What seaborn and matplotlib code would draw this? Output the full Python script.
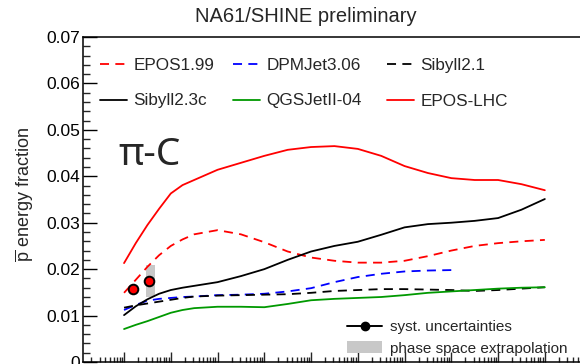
import matplotlib
matplotlib.use("Agg")
import matplotlib.pyplot as plt
import numpy as np
import pandas as pd
import seaborn as sns
from matplotlib.lines import Line2D
from matplotlib.patches import Patch
from matplotlib.ticker import MultipleLocator, NullFormatter, LogLocator

# ---------------- data ----------------
energy = [1e2, 1.78e2, 3.16e2, 5.62e2, 1e3, 1.78e3, 3.16e3, 1e4, 3.16e4, 1e5, 3.16e5, 1e6,
          3.16e6, 1e7, 3.16e7, 1e8, 3.16e8, 1e9, 3.16e9, 1e10, 3.16e10, 1e11]

epos199 = [0.0149, 0.0177, 0.0205, 0.0230, 0.0250, 0.0264, 0.0275, 0.0284, 0.0275, 0.0258,
           0.0238, 0.0225, 0.0218, 0.0214, 0.0214, 0.0218, 0.0228, 0.0240, 0.0250, 0.0256,
           0.0260, 0.0263]
dpmjet306 = [0.0112, 0.0123, 0.0132, 0.0136, 0.0138, 0.0140, 0.0141, 0.0144, 0.0145, 0.0147,
             0.0152, 0.0159, 0.0172, 0.0183, 0.0190, 0.0195, 0.0197, 0.0198]
sibyll21 = [0.0117, 0.0122, 0.0126, 0.0130, 0.0134, 0.0138, 0.0141, 0.0143, 0.0144, 0.0145,
            0.0146, 0.0149, 0.0153, 0.0155, 0.0157, 0.0157, 0.0156, 0.0155, 0.0153, 0.0155,
            0.0158, 0.0161]
sibyll23c = [0.0101, 0.0120, 0.0135, 0.0147, 0.0155, 0.0160, 0.0164, 0.0172, 0.0185, 0.0200,
             0.0220, 0.0238, 0.0250, 0.0259, 0.0274, 0.0290, 0.0297, 0.0300, 0.0304, 0.0310,
             0.0328, 0.0351]
qgsjet = [0.0071, 0.0080, 0.0088, 0.0097, 0.0106, 0.0112, 0.0116, 0.0119, 0.0119, 0.0118,
          0.0125, 0.0133, 0.0136, 0.0138, 0.0140, 0.0144, 0.0149, 0.0152, 0.0155, 0.0158,
          0.0160, 0.0161]
epos_lhc = [0.0213, 0.0256, 0.0295, 0.0330, 0.0363, 0.0381, 0.0392, 0.0414, 0.0429, 0.0444,
            0.0457, 0.0463, 0.0465, 0.0459, 0.0444, 0.0422, 0.0407, 0.0396, 0.0392, 0.0392,
            0.0383, 0.0370]

models = ["EPOS1.99", "DPMJet3.06", "Sibyll2.1", "Sibyll2.3c", "QGSJetII-04", "EPOS-LHC"]
series = [epos199, dpmjet306, sibyll21, sibyll23c, qgsjet, epos_lhc]
colors = ["#ff0000", "#0000ff", "#000000", "#000000", "#009900", "#ff0000"]
dashed = [True, True, True, False, False, False]

# measurements
data_energy = [158, 350]
data_value = [0.0157, 0.0174]
# phase space extrapolation band
band_energy = [295, 460]
band_low = [0.0140, 0.0140]
band_high = [0.0209, 0.0209]

ytick_values = [0, 0.01, 0.02, 0.03, 0.04, 0.05, 0.06, 0.07]
ytick_labels = ["0", "0.01", "0.02", "0.03", "0.04", "0.05", "0.06", "0.07"]

# ---------------- style ----------------
sns.set_style("ticks")
plt.rcParams["font.family"] = ["Liberation Sans", "DejaVu Sans"]
plt.rcParams["mathtext.fontset"] = "custom"
plt.rcParams["mathtext.rm"] = "Liberation Sans"
plt.rcParams["mathtext.it"] = "Liberation Sans:italic"

rows = []
for m, s in zip(models, series):
    for e, v in zip(energy, s):
        rows.append({"energy": e, "fraction": v, "model": m})
df = pd.DataFrame(rows)

fig = plt.figure(figsize=(5.8, 3.64), dpi=100)
W, H = 580, 364
ax = fig.add_axes([83 / W, 2 / H, (600 - 83) / W, 325 / H])
ax.set_xscale("log")

palette = dict(zip(models, colors))
dashes = {m: ((5, 3.5) if d else "") for m, d in zip(models, dashed)}
sns.lineplot(data=df, x="energy", y="fraction", hue="model", style="model",
             palette=palette, dashes=dashes, hue_order=models, style_order=models,
             linewidth=1.3, errorbar=None, legend=False, ax=ax)

ax.fill_between(band_energy, band_low, band_high, color="#c8c8c8", lw=0, zorder=1)
sns.scatterplot(x=data_energy, y=data_value, color="#ff0000", edgecolor="black",
                linewidth=1.4, s=48, zorder=5, ax=ax)

ax.set_xlim(10 ** 1.122, 10 ** 12.18)
ax.set_ylim(0, 0.07)
ax.set_yticks(ytick_values)
ax.set_yticklabels(ytick_labels)
ax.yaxis.set_minor_locator(MultipleLocator(0.002))
ax.xaxis.set_major_locator(LogLocator(base=10, numticks=20))
ax.xaxis.set_minor_locator(LogLocator(base=10, subs=np.arange(2, 10), numticks=200))
ax.xaxis.set_major_formatter(NullFormatter())
ax.xaxis.set_minor_formatter(NullFormatter())

ax.tick_params(axis="y", which="major", direction="in", length=10, width=1, pad=2,
               labelsize=12.5, colors="black")
ax.tick_params(axis="y", which="minor", direction="in", length=5, width=1)
ax.tick_params(axis="x", which="major", direction="in", length=7, width=1)
ax.tick_params(axis="x", which="minor", direction="in", length=3.5, width=1)
for sp in ax.spines.values():
    sp.set_linewidth(1.1)
    sp.set_color("black")
ax.set_xlabel("")
ax.set_ylabel(r"$\overline{\mathrm{p}}$ energy fraction", fontsize=13, va="center")
ax.yaxis.set_label_coords((25 - 83) / 517, (362 - 195) / 325)

fig.text(306 / W, 1 - 16 / H, "NA61/SHINE preliminary", fontsize=14.5, ha="center", va="center")
fig.text(150 / W, 1 - 155 / H, "π-C", fontsize=28, ha="center", va="center",
         family=["Noto Sans", "DejaVu Sans"])

# top legend (models), three columns
handles = {}
for m, c, d in zip(models, colors, dashed):
    handles[m] = Line2D([], [], color=c, lw=1.3, ls=(0, (5, 3.5)) if d else "-")
columns = [(["EPOS1.99", "Sibyll2.3c"], 100), (["DPMJet3.06", "QGSJetII-04"], 233),
           (["Sibyll2.1", "EPOS-LHC"], 387)]
for names, xpix in columns:
    lg = ax.legend([handles[m] for m in names], names, ncol=1, loc="upper left",
                   bbox_to_anchor=(xpix / W, 1 - 58 / H), bbox_transform=fig.transFigure,
                   frameon=False, fontsize=12.3, borderpad=0, borderaxespad=0,
                   handlelength=1.6, handletextpad=0.35, labelspacing=1.2)
    ax.add_artist(lg)

h_sys = Line2D([], [], color="black", marker="o", markersize=6, lw=1.4)
h_ext = Patch(facecolor="#c8c8c8", edgecolor="none")
ax.legend([h_sys, h_ext], ["syst. uncertainties", "phase space extrapolation"],
          loc="upper left", bbox_to_anchor=(347 / W, 1 - 320 / H),
          bbox_transform=fig.transFigure, frameon=False, fontsize=11, borderpad=0,
          borderaxespad=0, handlelength=2.3, handletextpad=0.5, labelspacing=0.45,
          handleheight=0.85)

fig.savefig("out.png", dpi=100)
